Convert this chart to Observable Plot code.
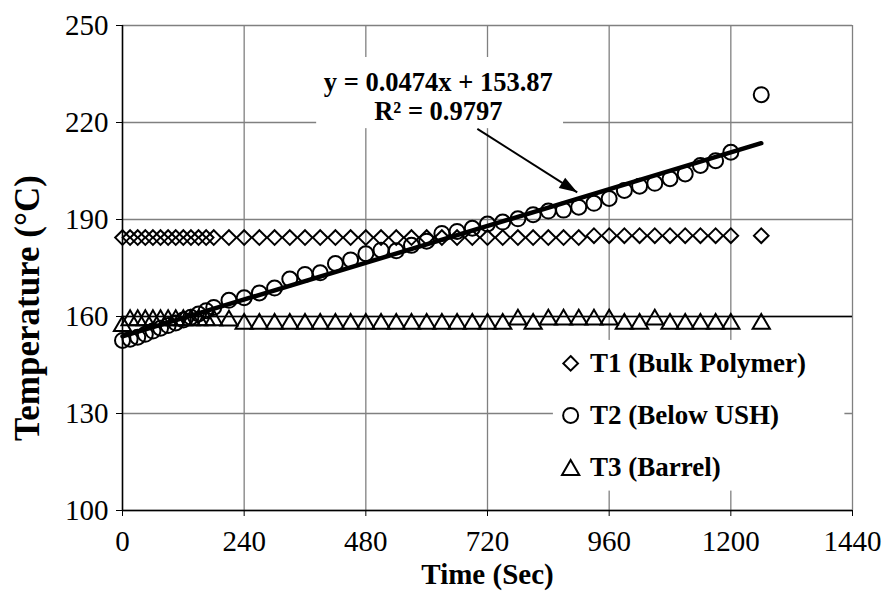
<!DOCTYPE html>
<html>
<head>
<meta charset="utf-8">
<script src="https://cdn.jsdelivr.net/npm/d3@7"></script>
<script src="https://cdn.jsdelivr.net/npm/@observablehq/plot@0.6"></script>
<style>
  html, body { margin: 0; padding: 0; background: white; }
</style>
</head>
<body>
<div id="chart"></div>
<script>
// ---- data ----
const times = [0,15,30,45,60,75,90,105,120,135,150,165,180,
  210,240,270,300,330,360,390,420,450,480,510,540,570,600,630,660,690,720,750,780,810,840,870,900,930,960,990,1020,1050,1080,1110,1140,1170,1200,
  1260];

const t1 = [184.4,184.4,184.4,184.4,184.4,184.4,184.4,184.4,184.4,184.4,184.4,184.4,184.4,
  184.4,184.4,184.4,184.4,184.4,184.4,184.4,184.4,184.4,184.4,184.4,184.4,184.4,184.4,184.4,184.4,184.4,184.4,184.4,184.4,184.4,184.4,184.4,184.4,
  185.0,185.0,185.0,185.0,185.0,185.0,185.0,185.0,185.0,185.0,
  185.0];

const t2 = [152.6,153.0,153.6,154.5,155.5,156.4,157.2,158.0,158.9,159.8,160.8,161.8,162.8,
  165.0,165.8,167.3,168.8,171.6,173.0,173.5,176.4,177.5,179.4,180.5,180.3,182.0,183.3,185.7,186.3,187.3,188.6,189.2,190.2,191.5,192.6,192.9,193.8,195.0,196.5,199.0,200.3,201.2,202.6,204.1,206.7,208.2,210.8,
  228.6];

const t3 = [157.8,159.6,159.6,159.6,159.6,159.6,159.6,159.6,159.6,159.6,159.6,159.6,159.6,
  159.5,158.5,158.5,158.5,158.5,158.5,158.5,158.5,158.5,158.5,158.5,158.5,158.5,158.5,158.5,158.5,158.5,158.5,158.5,159.8,158.5,159.8,159.8,159.8,159.8,159.8,158.5,158.5,159.8,158.5,158.5,158.5,158.5,158.5,
  158.5];

const seriesNames = ["T1 (Bulk Polymer)", "T2 (Below USH)", "T3 (Barrel)"];

const xTicks = [0, 240, 480, 720, 960, 1200, 1440];
const yTicks = [100, 130, 160, 190, 220, 250];

// trendline (Excel linear fit shown on the chart)
const slope = 0.0474;
const intercept = 153.87;
const trendRange = [0, 1260];
const eqLines = ["y = 0.0474x + 153.87", "R² = 0.9797"];

// annotation / legend anchors (data units)
const eqPos = {x: 623, y: 228.0};
const eqBox = {x1: 383, x2: 870, y1: 218.1, y2: 240.1};
const arrowSeg = {x1: 700, y1: 218.0, x2: 897, y2: 198.4};
const legendPos = {x: 884, tx: 922, y: [145.5, 129.4, 113.3]};
const legendBox = {x1: 850, x2: 1425, y1: 106.0, y2: 152.6};
const refLine = [160];

// ---- build tables ----
const d1 = times.map((t, i) => ({t, v: t1[i]}));
const d2 = times.map((t, i) => ({t, v: t2[i]}));
const d3s = times.map((t, i) => ({t, v: t3[i]}));
const trend = trendRange.map(t => ({t, v: slope * t + intercept}));
const legendRows = seriesNames.map((name, i) => ({name, x: legendPos.x, tx: legendPos.tx, y: legendPos.y[i]}));

const arrowHead = {
  draw(ctx) { ctx.moveTo(0, 0); ctx.lineTo(-6, 18); ctx.lineTo(6, 18); ctx.closePath(); }
};

const chart = Plot.plot({
  width: 886,
  height: 595,
  marginLeft: 122,
  marginRight: 34,
  marginTop: 25,
  marginBottom: 85,
  style: {fontFamily: "'Liberation Serif', 'Times New Roman', serif", background: "white", color: "black"},
  x: {domain: [0, 1440], ticks: xTicks},
  y: {domain: [100, 250], ticks: yTicks},
  marks: [
    Plot.gridX(xTicks, {stroke: "#808080", strokeOpacity: 1, strokeWidth: 1.3}),
    Plot.gridY(yTicks, {stroke: "#808080", strokeOpacity: 1, strokeWidth: 1.3}),
    Plot.ruleY(refLine, {stroke: "black", strokeWidth: 1.5}),
    Plot.axisX(xTicks, {tickSize: 6, tickPadding: 14, fontSize: 29, tickFormat: d => String(d), label: null, stroke: "black"}),
    Plot.axisY(yTicks, {tickSize: 6, tickPadding: 8, fontSize: 29, tickFormat: d => String(d), label: null, stroke: "black"}),
    Plot.ruleX([0], {stroke: "black", strokeWidth: 1.5}),
    Plot.ruleY([100], {stroke: "black", strokeWidth: 1.5}),
    // annotation box
    Plot.rect([eqBox], {x1: "x1", x2: "x2", y1: "y1", y2: "y2", fill: "white"}),
    // legend box
    Plot.rect([legendBox], {x1: "x1", x2: "x2", y1: "y1", y2: "y2", fill: "white"}),
    // series
    Plot.dot(d1, {x: "t", y: "v", symbol: "diamond2", r: 6.6, stroke: "black", strokeWidth: 2, fill: "none"}),
    Plot.dot(d3s, {x: "t", y: "v", symbol: "triangle", r: 6.4, dy: 2.5, stroke: "black", strokeWidth: 2, fill: "none"}),
    Plot.dot(d2, {x: "t", y: "v", symbol: "circle", r: 7.5, stroke: "black", strokeWidth: 2, fill: "none"}),
    Plot.line(trend, {x: "t", y: "v", stroke: "black", strokeWidth: 4.5}),
    // arrow
    Plot.link([arrowSeg], {x1: "x1", y1: "y1", x2: "x2", y2: "y2", stroke: "black", strokeWidth: 2}),
    Plot.dot([arrowSeg], {x: "x2", y: "y2", symbol: arrowHead, fill: "black", stroke: "none", rotate: 122}),
    // equation text
    Plot.text([eqLines.join("\n")], {x: () => eqPos.x, y: () => eqPos.y, text: d => d, fontSize: 26.5, fontWeight: "bold", lineHeight: 1.08, fill: "black"}),
    // legend
    Plot.dot([legendRows[0]], {x: "x", y: "y", symbol: "diamond2", r: 6.6, stroke: "black", strokeWidth: 2, fill: "none"}),
    Plot.dot([legendRows[1]], {x: "x", y: "y", symbol: "circle", r: 7.5, stroke: "black", strokeWidth: 2, fill: "none"}),
    Plot.dot([legendRows[2]], {x: "x", y: "y", symbol: "triangle", r: 6.4, dy: 2.5, stroke: "black", strokeWidth: 2, fill: "none"}),
    Plot.text(legendRows, {x: "tx", y: "y", text: "name", textAnchor: "start", fontSize: 27, fontWeight: "bold", fill: "black"}),
    // axis titles
    Plot.text(["Time (Sec)"], {frameAnchor: "bottom", dy: 73, text: d => d, fontSize: 29, fontWeight: "bold", fill: "black"}),
    Plot.text(["Temperature (°C)"], {frameAnchor: "left", textAnchor: "middle", dx: -95, dy: 40, rotate: -90, text: d => d, fontSize: 35, fontWeight: "bold", fill: "black"})
  ]
});

document.getElementById("chart").appendChild(chart);
</script>
</body>
</html>
